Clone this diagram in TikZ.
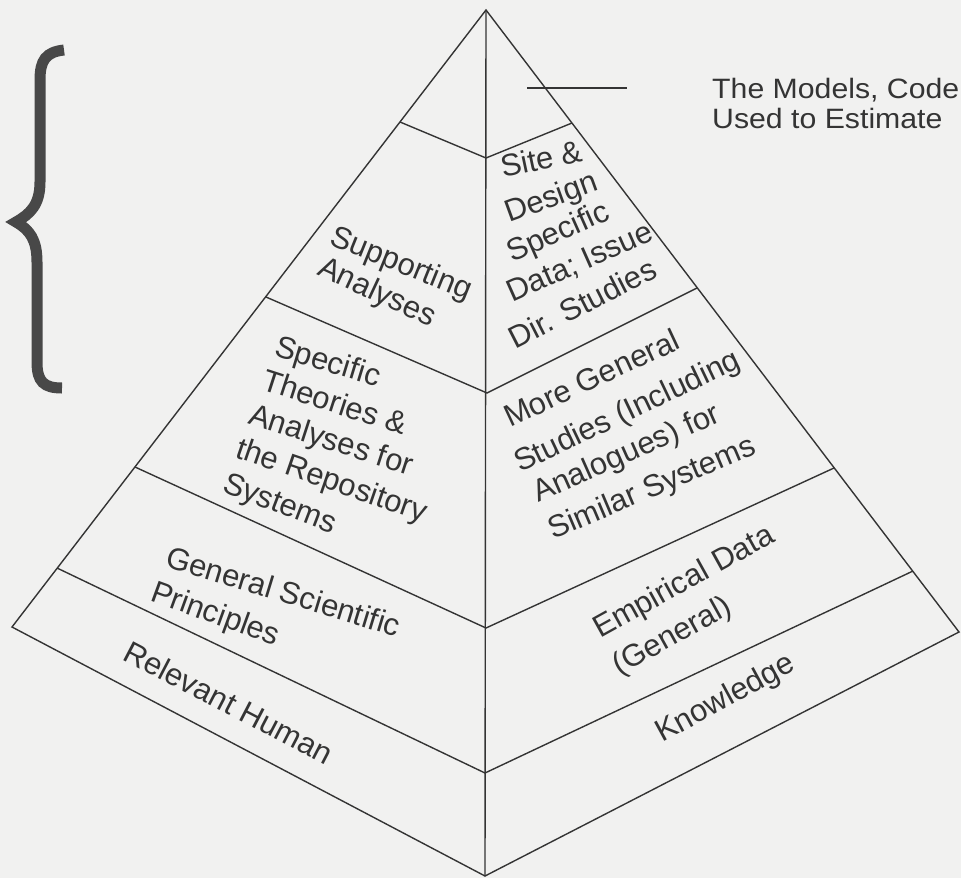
\documentclass[tikz,border=0pt]{standalone}
\usepackage{fontspec}
\setmainfont{Liberation Sans}
\definecolor{paper}{RGB}{241,241,240}
\definecolor{ink}{RGB}{52,52,52}
\tikzset{
  face/.style={draw=ink, line width=1.4pt},
  lbl/.style={anchor=base west, inner sep=0pt, text=ink, font=\fontsize{31}{37}\selectfont},
  note/.style={anchor=base west, inner sep=0pt, text=ink, font=\fontsize{28}{30}\selectfont, xscale=1.08},
  bracket/.style={draw=ink!90, line width=11pt, line cap=butt},
}

\begin{document}
\begin{tikzpicture}[x=1pt,y=-1pt]
\fill[paper] (0,0) rectangle (961,878);
\useasboundingbox (0,0) rectangle (961,878);

\coordinate (apex) at (486,10);
\coordinate (lc) at (12,627);
\coordinate (rc) at (959,632);
\coordinate (bot) at (485,876);

\draw[face] (apex) -- (lc) -- (bot) -- (rc) -- cycle;
\draw[face] (apex) -- (bot);

\draw[face] (400,122) -- (486,158) -- (572,123);
\draw[face] (266,297) -- (487,393) -- (697,288);
\draw[face] (135,467) -- (486,628) -- (834,468);
\draw[face] (57,568) -- (485,773) -- (913,571);

\draw[bracket] (64,50) .. controls (46,52) and (40,60) .. (40,80) -- (40,182)
  .. controls (40,205) and (30,214) .. (16,222)
  .. controls (30,230) and (37,240) .. (37,262) -- (37,362)
  .. controls (37,382) and (44,388) .. (62,388);

\coordinate (leadA) at (527,88);
\coordinate (leadB) at (627,88);
\draw[ink, line width=1.4pt] (leadA) -- (leadB);
\node[note] (models) at (712,98) {The Models, Code};
\node[note] (used) at (712,128) {Used to Estimate};

\node[lbl, rotate=-22] (sup1) at (328,244) {Supporting};
\node[lbl, rotate=-25] (sup2) at (316,274) {Analyses};

\node[lbl, rotate=-17] (spec1) at (273,355) {Specific};
\node[lbl, rotate=-18] (spec2) at (260,389) {Theories \&};
\node[lbl, rotate=-18] (spec3) at (247,423) {Analyses for};
\node[lbl, rotate=-19] (spec4) at (234,457) {the Repository};
\node[lbl, rotate=-21] (spec5) at (221,491) {Systems};

\node[lbl, rotate=-17] (gen1) at (164,566) {General Scientific};
\node[lbl, rotate=-20] (gen2) at (149,600) {Principles};

\node[lbl, rotate=-27.5] (rel) at (121,659) {Relevant Human};

\node[lbl, rotate=12] (site1) at (503,178) {Site \&};
\node[lbl, rotate=20] (site2) at (509,223) {Design};
\node[lbl, rotate=24] (site3) at (512,263) {Specific};
\node[lbl, rotate=24] (site4) at (512,303) {Data; Issue};
\node[lbl, rotate=27] (site5) at (515,350) {Dir. Studies};

\node[lbl, rotate=25] (more1) at (510,428) {More General};
\node[lbl, rotate=25.5] (more2) at (520,473) {Studies (Including};
\node[lbl, rotate=24] (more3) at (538,503) {Analogues) for};
\node[lbl, rotate=23] (more4) at (553,540) {Similar Systems};

\node[lbl, rotate=29] (emp1) at (600,639) {Empirical Data};
\node[lbl, rotate=29] (emp2) at (619,676) {(General)};

\node[lbl, rotate=28.5] (know) at (662,743) {Knowledge};
\end{tikzpicture}
\end{document}
